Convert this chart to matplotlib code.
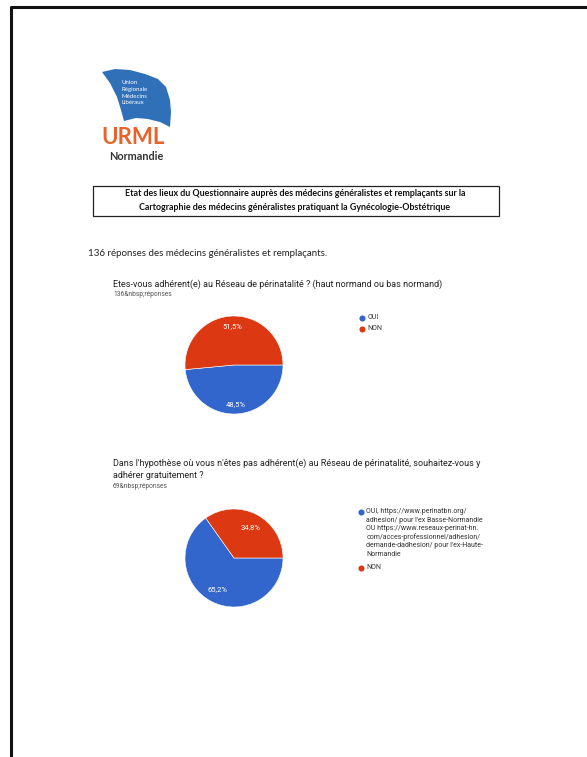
import matplotlib
matplotlib.use("Agg")
import matplotlib.pyplot as plt
from matplotlib.patches import Rectangle, Polygon

# donnees
q1_labels = ["OUI", "NON"]
q1_values = [48.5, 51.5]
q2_labels = ["OUI, https://www.perinatbn.org/\nadhesion/ pour l'ex Basse-Normandie\nOU https://www.reseaux-perinat-hn.\ncom/acces-professionnel/adhesion/\ndemande-dadhesion/ pour l'ex-Haute-\nNormandie",
             "NON"]
q2_values = [65.2, 34.8]
colors = ["#3366CC", "#DC3912"]

W, H = 587, 757
fig = plt.figure(figsize=(W / 100, H / 100), dpi=100)
fig.patch.set_facecolor("white")

# axe de fond en pixels
bg = fig.add_axes([0, 0, 1, 1])
bg.set_xlim(0, W)
bg.set_ylim(H, 0)
bg.axis("off")

# bord de la page
bg.plot([10.5, 10.5, W], [H, 6.5, 6.5], color="#111111", lw=2.2, solid_capstyle="butt")

# logo URML
sail = [(102, 72), (115, 69), (130, 70), (145, 74), (158, 79), (166, 87), (170, 100),
        (171, 112), (170, 127), (160, 122), (148, 119), (136, 118), (124, 121),
        (121, 110), (117, 97), (110, 83)]
bg.add_patch(Polygon(sail, closed=True, facecolor="#2F70B8", edgecolor="none"))
for i, line in enumerate(["Union", "Régionale", "Médecins", "Libéraux"]):
    bg.text(122, 83 + i * 6.5, line, color="white", fontsize=4.4, family="Lato",
            va="center", ha="left")
bg.text(101, 138, "URML", color="#E8632B", fontsize=16, weight="bold", family="Lato",
        va="center", ha="left")
bg.text(136, 156, "Normandie", color="#333333", fontsize=7.8, weight="bold", family="Lato",
        va="center", ha="center")

# titre encadre
bg.add_patch(Rectangle((93, 186), 406, 30, facecolor="none", edgecolor="#222222", lw=0.9))
bg.text(295, 194, "Etat des lieux du Questionnaire auprès des médecins généralistes et remplaçants sur la",
        fontsize=6.4, weight="bold", family="Lato", ha="center", va="center", color="#111111")
bg.text(295, 208, "Cartographie des médecins généralistes pratiquant la Gynécologie-Obstétrique",
        fontsize=6.4, weight="bold", family="Lato", ha="center", va="center", color="#111111")

bg.text(88, 254, "136 réponses des médecins généralistes et remplaçants.",
        fontsize=7.0, family="Lato", ha="left", va="center", color="#222222")

# question 1
bg.text(113, 284, "Etes-vous adhérent(e) au Réseau de périnatalité ? (haut normand ou bas normand)",
        fontsize=6.5, family="Roboto", ha="left", va="center", color="#222222")
bg.text(113, 295, "136&nbsp;réponses", fontsize=4.8, family="Roboto", ha="left", va="center",
        color="#555555")

# question 2
bg.text(113, 463, "Dans l'hypothèse où vous n'êtes pas adhérent(e) au Réseau de périnatalité, souhaitez-vous y",
        fontsize=6.5, family="Roboto", ha="left", va="center", color="#222222")
bg.text(113, 476, "adhérer gratuitement ?",
        fontsize=6.5, family="Roboto", ha="left", va="center", color="#222222")
bg.text(113, 487, "69&nbsp;réponses", fontsize=4.8, family="Roboto", ha="left", va="center",
        color="#555555")


def pct(v):
    return ("%.1f%%" % v).replace(".", ",")


def draw_pie(cx, cy, r, values, pctdist):
    ax = fig.add_axes([(cx - r) / W, 1 - (cy + r) / H, 2 * r / W, 2 * r / H])
    ax.pie(values, colors=colors, startangle=0, counterclock=False,
           autopct=pct, pctdistance=pctdist,
           wedgeprops=dict(edgecolor="white", linewidth=0.4),
           textprops=dict(color="white", fontsize=5.5, family="Roboto"))
    ax.set_xlim(-1, 1)
    ax.set_ylim(-1, 1)
    ax.axis("off")
    return ax


draw_pie(234, 365, 49, q1_values, 0.8)
draw_pie(234, 558, 49, q2_values, 0.72)


# legende
def legend(x, y, labels, gap):
    yy = y
    for lab, c in zip(labels, colors):
        bg.plot(x, yy, "o", color=c, markersize=4.4, markeredgewidth=0)
        bg.text(x + 5.5, yy - 3.6, lab, fontsize=5.0, family="Roboto", ha="left", va="top",
                color="#333333", linespacing=1.25)
        nlines = lab.count("\n") + 1
        yy += (nlines - 1) * gap + 11
    return yy


legend(362, 318, q1_labels, 9.0)
legend(361, 512, q2_labels, 9.0)

fig.savefig("out.png", dpi=100, facecolor="white")
